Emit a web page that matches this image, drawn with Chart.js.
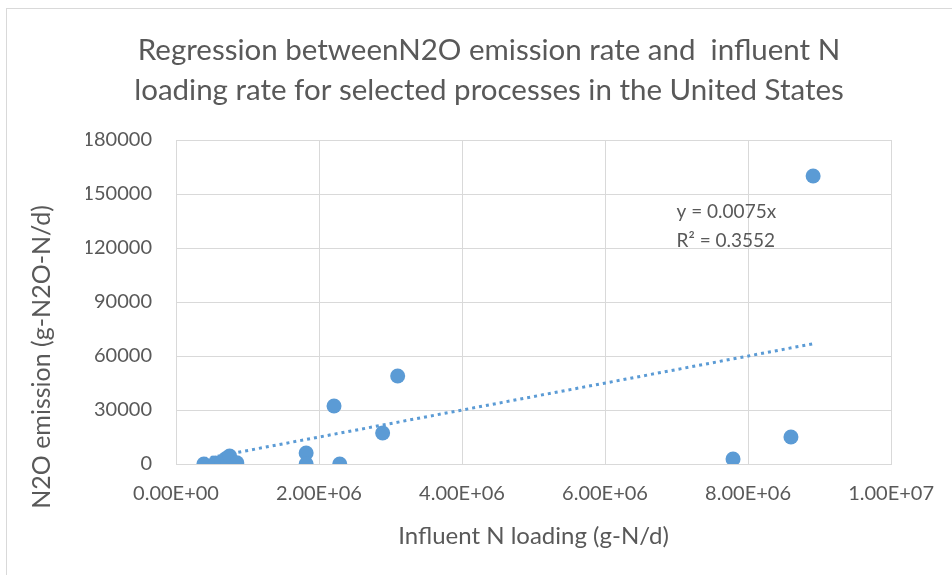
<!DOCTYPE html>
<html>
<head>
<meta charset="utf-8">
<script src="https://cdn.jsdelivr.net/npm/chart.js@4.4.1/dist/chart.umd.min.js"></script>
<style>
  html, body { margin: 0; padding: 0; background: #fff; }
  #wrap { position: relative; width: 952px; height: 575px; }
  #frame { position: absolute; left: 6px; top: 8px; width: 960px; height: 580px;
           border-left: 1px solid #d9d9d9; border-top: 1px solid #d9d9d9; }
  canvas { position: absolute; left: 0; top: 0; }
</style>
</head>
<body>
<div id="wrap">
  <div id="frame"></div>
  <canvas id="scatterChart" width="952" height="575"></canvas>
</div>
<script>
// influent N loading (g-N/d) and N2O emission (g-N2O-N/d)
const loadingX = [390000, 550000, 640000, 700000, 750000, 850000, 1820000, 1820000, 2210000, 2290000, 2890000, 3100000, 7790000, 8600000, 8910000];
const emissionY = [0, 600, 1100, 3000, 4400, 700, 6100, 0, 32200, 0, 17200, 48900, 2800, 15000, 160000];

// linear trendline through origin, y = 0.0075x (ends)
const trendX = [390000, 8910000];
const trendY = [2900, 66800];

const xTickLabels = ['0.00E+00', '2.00E+06', '4.00E+06', '6.00E+06', '8.00E+06', '1.00E+07'];
const yTickLabels = ['0', '30000', '60000', '90000', '120000', '150000', '180000'];

const equationLines = ['y = 0.0075x', 'R\u00b2 = 0.3552'];

const textColor = '#595959';
const gridColor = '#d9d9d9';
const blue = '#5b9bd5';

document.addEventListener("DOMContentLoaded", function() {
    const points = loadingX.map((x, i) => ({ x: x, y: emissionY[i] }));
    const trend = trendX.map((x, i) => ({ x: x, y: trendY[i] }));

    // equation text + rotated y-axis title
    const annotations = {
        id: 'annotations',
        afterDraw(chart) {
            const ctx = chart.ctx;
            const xs = chart.scales.x, ys = chart.scales.y;
            ctx.save();
            ctx.fillStyle = textColor;
            ctx.font = '19px Lato';
            ctx.textAlign = 'left';
            ctx.textBaseline = 'middle';
            ctx.fillText(equationLines[0], xs.getPixelForValue(7000000), ys.getPixelForValue(140000));
            ctx.fillText(equationLines[1], xs.getPixelForValue(7000000), ys.getPixelForValue(124000));

            ctx.translate(42, 357);
            ctx.rotate(-Math.PI / 2);
            ctx.textAlign = 'center';
            ctx.font = '25px Lato';
            ctx.fillText('N2O emission (g-N2O-N/d)', 0, 0);
            ctx.restore();
        }
    };

    const ctx = document.getElementById('scatterChart').getContext('2d');
    new Chart(ctx, {
        type: 'scatter',
        data: {
            datasets: [{
                label: 'N2O emission',
                data: points,
                backgroundColor: blue,
                borderWidth: 0,
                pointRadius: 7.5,
                pointHoverRadius: 7.5,
                order: 1
            }, {
                type: 'line',
                label: 'Linear trend',
                data: trend,
                borderColor: blue,
                borderWidth: 3,
                borderDash: [3, 4],
                pointRadius: 0,
                fill: false,
                order: 2
            }]
        },
        options: {
            responsive: false,
            animation: false,
            events: [],
            layout: { padding: { left: 86, right: 60, top: 0, bottom: 0 } },
            plugins: {
                legend: { display: false },
                tooltip: { enabled: false },
                title: {
                    display: true,
                    text: ['Regression betweenN2O emission rate and  influent N',
                           'loading rate for selected processes in the United States'],
                    color: textColor,
                    font: { family: 'Lato', size: 29.5, weight: 'normal', lineHeight: 40 / 29.5 },
                    padding: { top: 30, bottom: 30 }
                }
            },
            scales: {
                x: {
                    type: 'linear',
                    min: 0,
                    max: 10000000,
                    ticks: {
                        stepSize: 2000000,
                        color: textColor,
                        font: { family: 'Lato', size: 20 },
                        padding: 18,
                        maxRotation: 0,
                        callback: (v, i) => xTickLabels[i]
                    },
                    grid: { color: gridColor, drawTicks: false },
                    border: { color: gridColor },
                    title: {
                        display: true,
                        text: 'Influent N loading (g-N/d)',
                        color: textColor,
                        font: { family: 'Lato', size: 24 },
                        padding: { top: 0, bottom: 24 }
                    },
                    afterFit: s => { s.height = 111; }
                },
                y: {
                    min: 0,
                    max: 180000,
                    ticks: {
                        stepSize: 30000,
                        color: textColor,
                        font: { family: 'Lato', size: 20 },
                        padding: 24,
                        callback: (v, i) => yTickLabels[i]
                    },
                    grid: { color: gridColor, drawTicks: false },
                    border: { color: gridColor },
                    afterFit: s => { s.width = 90; }
                }
            }
        },
        plugins: [annotations]
    });
});
</script>
</body>
</html>
